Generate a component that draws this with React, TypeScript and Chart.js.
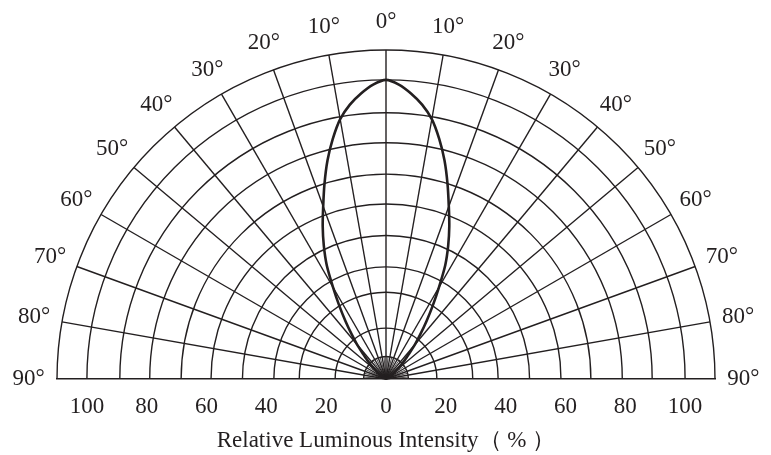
import React, { useEffect, useRef } from "react";
import { Chart, registerables } from "chart.js";

Chart.register(...registerables);

// ---- data ----
const angleLabels = [0, 10, 20, 30, 40, 50, 60, 70, 80, 90];
const spokeAngles = [-80, -70, -60, -50, -40, -30, -20, -10, 0, 10, 20, 30, 40, 50, 60, 70, 80];
const innerSpokeAngles = [-85, -75, -65, -55, -45, -35, -25, -15, -5, 5, 15, 25, 35, 45, 55, 65, 75, 85];
const ringValues = [7.5, 17, 29, 37.5, 48, 58.5, 68.5, 79, 89, 100, 110];
const xTickValues = [-100, -80, -60, -40, -20, 0, 20, 40, 60, 80, 100];
const beamAngles = [0, 2.5, 5, 7.5, 10, 12.5, 15, 17.5, 20, 22.5, 25, 27.5, 30, 32.5, 35, 37.5, 40, 42.5, 45, 47.5, 50, 55, 60, 70, 80, 90];
const beamIntensity = [100, 98.5, 95.8, 92.5, 88.2, 82.2, 75.6, 68.4, 61.4, 55.3, 49.2, 42.9, 35.4, 29.1, 23.6, 18.9, 15.1, 11.3, 8.8, 6.5, 4.6, 2.5, 1.3, 0.4, 0, 0];
const axisTitle = "Relative Luminous Intensity\uFF08 % \uFF09";

const INK = "#231f20";
const FONT_FAMILY = "'Liberation Serif', 'Times New Roman', serif";
const OUTER = 110;
const LABEL_R = 119.5;
const INNER_FAN = 7.5;

const toRad = (d: number) => (d * Math.PI) / 180;

const polarGrid = {
  id: "polarGrid",
  beforeDatasetsDraw(chart: any) {
    const { ctx, scales } = chart;
    const xs = scales.x;
    const ys = scales.y;
    const cx = xs.getPixelForValue(0);
    const cy = ys.getPixelForValue(0);
    const px = (v: number) => xs.getPixelForValue(v) - cx;
    ctx.save();
    ctx.strokeStyle = INK;
    ctx.lineWidth = 1.4;
    ringValues.forEach((r) => {
      ctx.beginPath();
      ctx.arc(cx, cy, px(r), Math.PI, 2 * Math.PI);
      ctx.stroke();
    });
    const R = px(OUTER);
    spokeAngles.forEach((a) => {
      ctx.beginPath();
      ctx.moveTo(cx, cy);
      ctx.lineTo(cx + R * Math.sin(toRad(a)), cy - R * Math.cos(toRad(a)));
      ctx.stroke();
    });
    const r0 = px(INNER_FAN);
    ctx.lineWidth = 0.8;
    innerSpokeAngles.forEach((a) => {
      ctx.beginPath();
      ctx.moveTo(cx, cy);
      ctx.lineTo(cx + r0 * Math.sin(toRad(a)), cy - r0 * Math.cos(toRad(a)));
      ctx.stroke();
    });
    ctx.restore();
  },
  afterDraw(chart: any) {
    const { ctx, scales } = chart;
    const xs = scales.x;
    const ys = scales.y;
    const cx = xs.getPixelForValue(0);
    const cy = ys.getPixelForValue(0);
    const L = xs.getPixelForValue(LABEL_R) - cx;
    ctx.save();
    ctx.fillStyle = INK;
    ctx.font = `23px ${FONT_FAMILY}`;
    ctx.textAlign = "center";
    ctx.textBaseline = "middle";
    angleLabels.forEach((a) => {
      const sides = a === 0 ? [0] : [-a, a];
      sides.forEach((s) => {
        const x = cx + L * Math.sin(toRad(s));
        const y = cy - L * Math.cos(toRad(s));
        ctx.fillText(`${a}\u00B0`, x, y);
      });
    });
    ctx.restore();
  },
};

export default function App() {
  const ref = useRef<HTMLCanvasElement | null>(null);

  useEffect(() => {
    if (!ref.current) return;
    const pts: { x: number; y: number }[] = [];
    for (let i = beamAngles.length - 1; i >= 0; i--) {
      const a = -beamAngles[i];
      const I = beamIntensity[i];
      pts.push({ x: I * Math.sin(toRad(a)), y: I * Math.cos(toRad(a)) });
    }
    for (let i = 1; i < beamAngles.length; i++) {
      const a = beamAngles[i];
      const I = beamIntensity[i];
      pts.push({ x: I * Math.sin(toRad(a)), y: I * Math.cos(toRad(a)) });
    }

    const chart = new Chart(ref.current, {
      type: "scatter",
      data: {
        datasets: [
          {
            data: pts,
            showLine: true,
            borderColor: INK,
            borderWidth: 2.6,
            pointRadius: 0,
            tension: 0.25,
            fill: false,
          } as any,
        ],
      },
      plugins: [polarGrid],
      options: {
        animation: false,
        responsive: false,
        maintainAspectRatio: false,
        layout: { padding: { left: 57, right: 56, top: 20, bottom: 0 } },
        plugins: { legend: { display: false }, tooltip: { enabled: false } },
        scales: {
          x: {
            type: "linear",
            min: -OUTER,
            max: OUTER,
            grid: { display: false, drawTicks: false },
            border: { display: true, color: INK, width: 1.4 },
            afterBuildTicks: (scale: any) => {
              scale.ticks = xTickValues.map((v) => ({ value: v }));
            },
            afterFit: (scale: any) => {
              scale.height = 76;
            },
            ticks: {
              color: INK,
              font: { family: FONT_FAMILY, size: 23 },
              padding: 14,
              maxRotation: 0,
              autoSkip: false,
              callback: (v: any) => String(Math.abs(Number(v))),
            },
            title: {
              display: true,
              text: axisTitle,
              color: INK,
              padding: { top: 4, bottom: 0 },
              font: { family: FONT_FAMILY, size: 23 },
            },
          },
          y: { type: "linear", display: false, min: 0, max: 120 },
        },
      },
    });
    return () => chart.destroy();
  }, []);

  return (
    <div style={{ position: "absolute", left: 0, top: 0, width: 771, height: 455, background: "#fff" }}>
      <canvas ref={ref} width={771} height={455} style={{ width: 771, height: 455 }} />
    </div>
  );
}
